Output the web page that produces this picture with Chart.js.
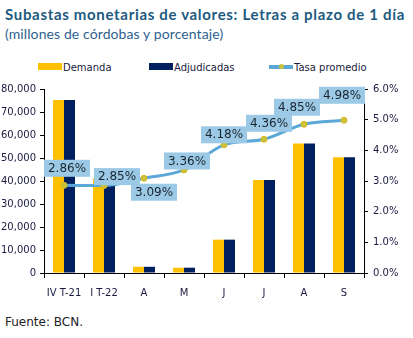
<!DOCTYPE html>
<html>
<head>
<meta charset="utf-8">
<script src="https://cdn.jsdelivr.net/npm/chart.js@4.4.0/dist/chart.umd.min.js"></script>
<style>
  body { margin: 0; width: 413px; height: 338px; overflow: hidden; background: #fff; position: relative; font-family: "DejaVu Sans", sans-serif; }
  #titulo { position: absolute; left: 5px; top: 5px; font-family: Lato, sans-serif; font-weight: bold; font-size: 15px; letter-spacing: 0.68px; color: #1d5a80; white-space: nowrap; }
  #subtitulo { position: absolute; left: 5px; top: 25px; font-family: Lato, sans-serif; font-size: 14px; letter-spacing: 0.1px; color: #2f5f8f; white-space: nowrap; }
  #leyenda { position: absolute; top: 62px; left: 0; font-size: 10px; color: #1a1a40; }
  #leyenda span { position: absolute; white-space: nowrap; }
  .caja { display: inline-block; width: 24px; height: 7px; vertical-align: 1px; margin-right: 1px; }
  #fuente { position: absolute; left: 5px; top: 315px; font-size: 12px; color: #222; }
  #grafico { position: absolute; left: -3px; top: 78px; }
</style>
</head>
<body>
<div id="titulo">Subastas monetarias de valores: Letras a plazo de 1 día</div>
<div id="subtitulo">(millones de córdobas y porcentaje)</div>
<div id="leyenda">
  <span style="left:38px"><i class="caja" style="background:#ffc000"></i>Demanda</span>
  <span style="left:149px"><i class="caja" style="background:#002060"></i>Adjudicadas</span>
  <span style="left:269px"><i class="caja" style="height:4px;background:#5ba7d8;position:relative;vertical-align:2px"><b style="position:absolute;left:10px;top:-1px;width:5px;height:5px;border-radius:3px;background:#c9c23a"></b></i>Tasa promedio</span>
</div>
<canvas id="grafico" width="416" height="230"></canvas>
<div id="fuente">Fuente: BCN.</div>
<script>
var categorias = ['IV T-21', 'I T-22', 'A', 'M', 'J', 'J', 'A', 'S'];
var demanda = [75200, 41100, 2700, 2300, 14500, 40400, 56300, 50300];
var adjudicadas = [75200, 38100, 2700, 2300, 14500, 40400, 56300, 50300];
var tasa = [2.86, 2.85, 3.09, 3.36, 4.18, 4.36, 4.85, 4.98];
var ticksIzq = [0, 10000, 20000, 30000, 40000, 50000, 60000, 70000, 80000];
var ticksDer = [0, 1, 2, 3, 4, 5, 6];

// desplazamiento de cada etiqueta respecto a su punto (px)
var desplazaEtiqueta = [[3, -17], [13, -9], [10, 14], [3, -9], [0, -10], [5, -16], [-7, -17], [-2, -25]];

var etiquetas = {
	id: 'etiquetas',
	afterDatasetsDraw: function(chart) {
		var ctx = chart.ctx;
		var meta = chart.getDatasetMeta(2);
		ctx.save();
		ctx.font = '12px "DejaVu Sans"';
		ctx.textAlign = 'center';
		ctx.textBaseline = 'middle';
		meta.data.forEach(function(p, i) {
			var cx = p.x + desplazaEtiqueta[i][0];
			var cy = p.y + desplazaEtiqueta[i][1];
			ctx.fillStyle = '#9ccae6';
			ctx.fillRect(cx - 23, cy - 8.5, 46, 17);
			ctx.fillStyle = '#1a2530';
			ctx.fillText(tasa[i].toFixed(2) + '%', cx, cy + 0.5);
		});
		ctx.restore();
	}
};

var ejeNegro = { display: true, color: '#000', width: 1 };
var fuenteEje = { family: 'DejaVu Sans', size: 10 };

new Chart(document.getElementById('grafico').getContext('2d'), {
	data: {
		labels: categorias,
		datasets: [
			{ type: 'bar', label: 'Demanda', data: demanda, backgroundColor: '#ffc000', yAxisID: 'y', order: 1, categoryPercentage: 0.55, barPercentage: 1 },
			{ type: 'bar', label: 'Adjudicadas', data: adjudicadas, backgroundColor: '#002060', yAxisID: 'y', order: 1, categoryPercentage: 0.55, barPercentage: 1 },
			{ type: 'line', label: 'Tasa promedio', data: tasa, yAxisID: 'y1', order: 0, borderColor: '#5ba7d8', borderWidth: 3, tension: 0.4, cubicInterpolationMode: 'monotone',
			  pointRadius: 3, pointBackgroundColor: '#c9c23a', pointBorderColor: '#d8b820', pointBorderWidth: 1 }
		]
	},
	options: {
		responsive: false,
		animation: false,
		layout: { padding: { top: 9, left: 0, right: 0, bottom: 0 } },
		plugins: { legend: { display: false }, tooltip: { enabled: false } },
		scales: {
			x: {
				border: ejeNegro,
				grid: { offset: true, drawOnChartArea: false, drawTicks: true, tickLength: 5, color: '#000' },
				ticks: { color: '#1a1a40', font: fuenteEje, padding: 9, maxRotation: 0, autoSkip: false },
				afterFit: function(s) { s.height = 35; }
			},
			y: {
				position: 'left', min: 0, max: 80000,
				border: ejeNegro,
				grid: { drawOnChartArea: false, drawTicks: true, tickLength: 4, color: '#000' },
				afterBuildTicks: function(s) { s.ticks = ticksIzq.map(function(v) { return { value: v }; }); },
				ticks: { color: '#1a1a40', font: fuenteEje, padding: 4, callback: function(v) { return v.toLocaleString('en-US'); } },
				afterFit: function(s) { s.width = 47; }
			},
			y1: {
				position: 'right', min: 0, max: 6,
				border: ejeNegro,
				grid: { drawOnChartArea: false, drawTicks: true, tickLength: 4, color: '#000' },
				afterBuildTicks: function(s) { s.ticks = ticksDer.map(function(v) { return { value: v }; }); },
				ticks: { color: '#1a1a40', font: fuenteEje, padding: 5, callback: function(v) { return v.toFixed(1) + '%'; } },
				afterFit: function(s) { s.width = 49; }
			}
		}
	},
	plugins: [etiquetas]
});
</script>
</body>
</html>
